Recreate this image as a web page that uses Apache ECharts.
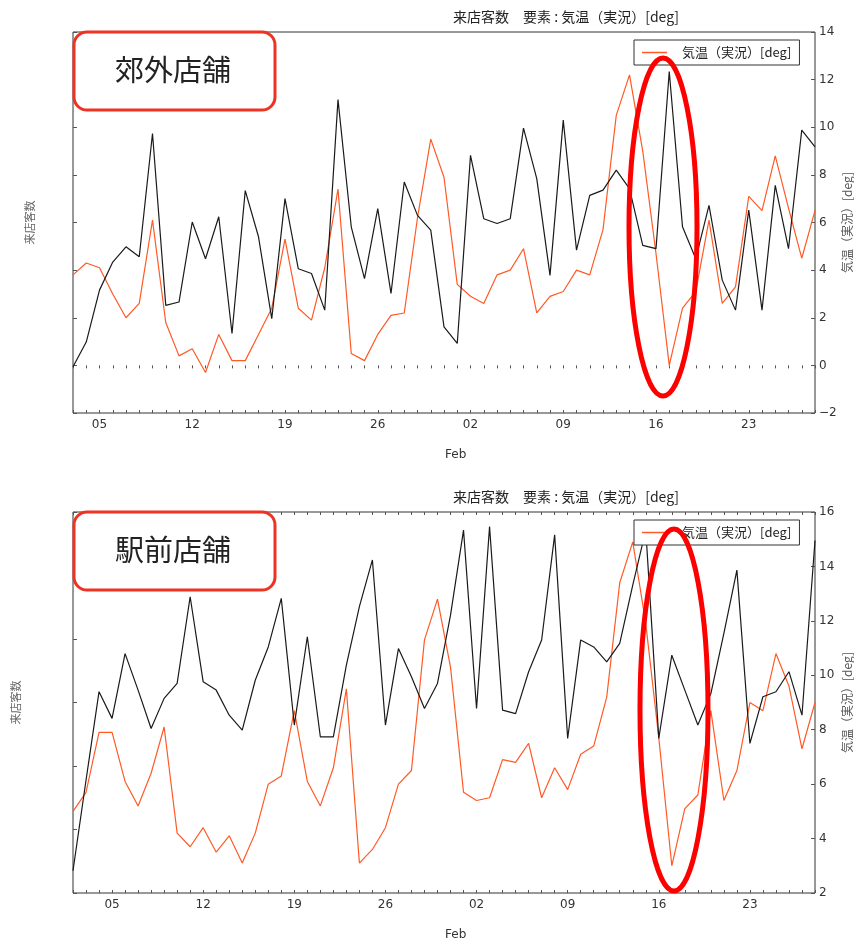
<!DOCTYPE html>
<html>
<head>
<meta charset="utf-8">
<script src="https://cdn.jsdelivr.net/npm/echarts@6/dist/echarts.min.js"></script>
<style>
  html, body { margin: 0; padding: 0; background: #fff; overflow: hidden; width: 854px; height: 940px; }
  #chart { width: 854px; height: 940px; display: block; }
</style>
</head>
<body>
<div id="chart"></div>
<script>
// Daily dates, Jan 2 – Feb 28
const dates = [
  '01-02','01-03','01-04','01-05','01-06','01-07','01-08','01-09','01-10','01-11',
  '01-12','01-13','01-14','01-15','01-16','01-17','01-18','01-19','01-20','01-21',
  '01-22','01-23','01-24','01-25','01-26','01-27','01-28','01-29','01-30','01-31',
  '02-01','02-02','02-03','02-04','02-05','02-06','02-07','02-08','02-09','02-10',
  '02-11','02-12','02-13','02-14','02-15','02-16','02-17','02-18','02-19','02-20',
  '02-21','02-22','02-23','02-24','02-25','02-26','02-27','02-28'
];
// Suburban store series starts one day later (Jan 3)
const suburbDates = dates.slice(1);
const stationDates = dates;

// Weekly major tick dates
const tickDates = ['01-05','01-12','01-19','01-26','02-02','02-09','02-16','02-23'];

// Suburban store: visitors (left axis) and temperature (right axis)
const suburbVisitors = [
  97,149,258,317,349,328,587,226,233,401,
  324,412,167,467,370,198,450,303,293,216,
  658,391,282,429,251,485,415,384,181,146,
  541,408,398,408,598,492,289,615,342,457,
  468,510,471,352,345,717,391,324,436,279,
  216,426,216,478,345,594,559
];
const suburbTemp = [
  3.8,4.3,4.1,3.0,2.0,2.6,6.1,1.8,0.4,0.7,
  -0.3,1.3,0.2,0.2,1.3,2.4,5.3,2.4,1.9,4.1,
  7.4,0.5,0.2,1.3,2.1,2.2,6.2,9.5,7.9,3.4,
  2.9,2.6,3.8,4.0,4.9,2.2,2.9,3.1,4.0,3.8,
  5.7,10.5,12.2,9.0,4.7,0.0,2.4,3.1,6.1,2.6,
  3.3,7.1,6.5,8.8,6.6,4.5,6.5
];

// Station-front store: visitors (left axis) and temperature (right axis)
const stationVisitors = [
  70,355,634,550,754,639,518,613,660,933,
  665,639,560,513,670,775,928,529,807,492,
  492,718,902,1049,529,770,681,581,660,875,
  1143,581,1154,576,565,697,797,1128,487,797,
  775,728,786,970,1143,487,749,639,529,628,
  818,1017,471,618,634,697,560,1110
];
const stationTemp = [
  5.0,5.7,7.9,7.9,6.1,5.2,6.4,8.1,4.2,3.7,
  4.4,3.5,4.1,3.1,4.2,6.0,6.3,8.7,6.1,5.2,
  6.6,9.5,3.1,3.6,4.4,6.0,6.5,11.3,12.8,10.3,
  5.7,5.4,5.5,6.9,6.8,7.5,5.5,6.6,5.8,7.1,
  7.4,9.2,13.4,14.9,11.9,7.7,3.0,5.1,5.6,8.7,
  5.4,6.5,9.0,8.7,10.8,9.6,7.3,9.0
];

const TEMP_NAME = '気温（実況）[deg]';
const VISIT_NAME = '来店客数';
const TITLE = '来店客数　要素 : 気温（実況）[deg]';
const CJK = "'Noto Sans CJK JP', sans-serif";
const NUM = "'DejaVu Sans', sans-serif";
const ORANGE = '#ff5a26';

const panels = [
  { top: 32, dates: suburbDates, visitors: suburbVisitors, temp: suburbTemp,
    vMax: 800, vInt: 100, tMin: -2, tMax: 14, leftGap: 38, label: '郊外店舗' },
  { top: 512, dates: stationDates, visitors: stationVisitors, temp: stationTemp,
    vMax: 1200, vInt: 200, tMin: 2, tMax: 16, leftGap: 52, label: '駅前店舗' }
];
const GRID_LEFT = 73, GRID_W = 742, GRID_H = 381;

const grid = [], xAxis = [], yAxis = [], series = [], legend = [], graphic = [];

panels.forEach((p, i) => {
  grid.push({
    left: GRID_LEFT, top: p.top, width: GRID_W, height: GRID_H,
    outerBoundsMode: 'none', containLabel: false,
    show: true, borderColor: '#333', borderWidth: 1, backgroundColor: 'transparent'
  });
  // bottom date axis with labels
  xAxis.push({
    gridIndex: i, type: 'category', data: p.dates, boundaryGap: false, position: 'bottom',
    axisLine: { show: false },
    axisTick: { show: true, inside: true, length: 3, interval: 0, lineStyle: { color: '#555' } },
    axisLabel: {
      interval: (idx, val) => tickDates.includes(val),
      formatter: v => v.slice(3),
      margin: 6, fontSize: 12, color: '#333', fontFamily: NUM
    },
    splitLine: { show: false }
  });
  // top frame ticks
  xAxis.push({
    gridIndex: i, type: 'category', data: p.dates, boundaryGap: false, position: 'top',
    axisLine: { show: false },
    axisTick: { show: true, inside: true, length: 3, interval: 0, lineStyle: { color: '#555' } },
    axisLabel: { show: false },
    splitLine: { show: false }
  });
  yAxis.push({
    gridIndex: i, type: 'value', position: 'left', min: 0, max: p.vMax, interval: p.vInt,
    axisLine: { show: false },
    axisTick: { show: true, inside: true, length: 4, lineStyle: { color: '#555' } },
    axisLabel: { show: false },
    splitLine: { show: false },
    name: VISIT_NAME, nameLocation: 'middle', nameGap: p.leftGap, nameMoveOverlap: false,
    nameTextStyle: { fontFamily: CJK, fontSize: 11, color: '#666' }
  });
  yAxis.push({
    gridIndex: i, type: 'value', position: 'right', min: p.tMin, max: p.tMax, interval: 2,
    axisLine: { show: false },
    axisTick: { show: true, inside: true, length: 4, lineStyle: { color: '#555' } },
    axisLabel: {
      margin: 4, fontSize: 12, color: '#333', fontFamily: NUM,
      formatter: v => String(v).replace('-', '\u2212')
    },
    splitLine: { show: false },
    name: TEMP_NAME, nameLocation: 'middle', nameGap: 26, nameMoveOverlap: false,
    nameTextStyle: { fontFamily: CJK, fontSize: 12, color: '#555' }
  });
  series.push({
    name: VISIT_NAME, type: 'line', xAxisIndex: i * 2, yAxisIndex: i * 2,
    data: p.visitors, symbol: 'none', z: 3,
    lineStyle: { color: '#1a1a1a', width: 1.2 }, itemStyle: { color: '#1a1a1a' }
  });
  series.push({
    name: TEMP_NAME, type: 'line', xAxisIndex: i * 2, yAxisIndex: i * 2 + 1,
    data: p.temp, symbol: 'none', z: 2,
    lineStyle: { color: ORANGE, width: 1.2 }, itemStyle: { color: ORANGE }
  });
  legend.push({
    data: [TEMP_NAME], left: 634, top: p.top + 8, selectedMode: false,
    icon: 'rect', itemWidth: 25, itemHeight: 1.5,
    backgroundColor: '#fff', borderColor: '#333', borderWidth: 1, borderRadius: 0,
    padding: [6, 8, 6, 8],
    textStyle: { fontFamily: CJK, fontSize: 13, color: '#222', padding: [0, 0, 0, 10] }
  });

  // header text above the plot frame
  graphic.push({
    type: 'text', left: 453, top: p.top - 22, z: 50,
    style: { text: TITLE, font: `14px ${CJK}`, fill: '#222' }
  });
  // month marker under the date axis
  graphic.push({
    type: 'text', left: 457 - 12, top: p.top + GRID_H + 36, z: 50,
    style: { text: 'Feb', font: `12px ${NUM}`, fill: '#333' }
  });
  // store name callout box
  graphic.push({
    type: 'rect', z: 60,
    shape: { x: GRID_LEFT + 1, y: p.top, width: 201, height: 78, r: 13 },
    style: { fill: '#fff', stroke: '#ee3322', lineWidth: 3 }
  });
  graphic.push({
    type: 'text', z: 61, x: 173, y: p.top + 38,
    style: { text: p.label, font: `29px ${CJK}`, fill: '#222', textAlign: 'center', textVerticalAlign: 'middle' }
  });
});

// highlight ellipses around Feb 17
graphic.push({
  type: 'ellipse', z: 70, shape: { cx: 663, cy: 227, rx: 34, ry: 169 },
  style: { fill: 'none', stroke: '#ff0000', lineWidth: 5 }
});
graphic.push({
  type: 'ellipse', z: 70, shape: { cx: 674, cy: 710, rx: 34, ry: 181 },
  style: { fill: 'none', stroke: '#ff0000', lineWidth: 5 }
});

const chart = echarts.init(document.getElementById('chart'), null, { renderer: 'canvas' });
chart.setOption({
  animation: false,
  backgroundColor: '#fff',
  grid, xAxis, yAxis, series, legend, graphic
});
</script>
</body>
</html>
